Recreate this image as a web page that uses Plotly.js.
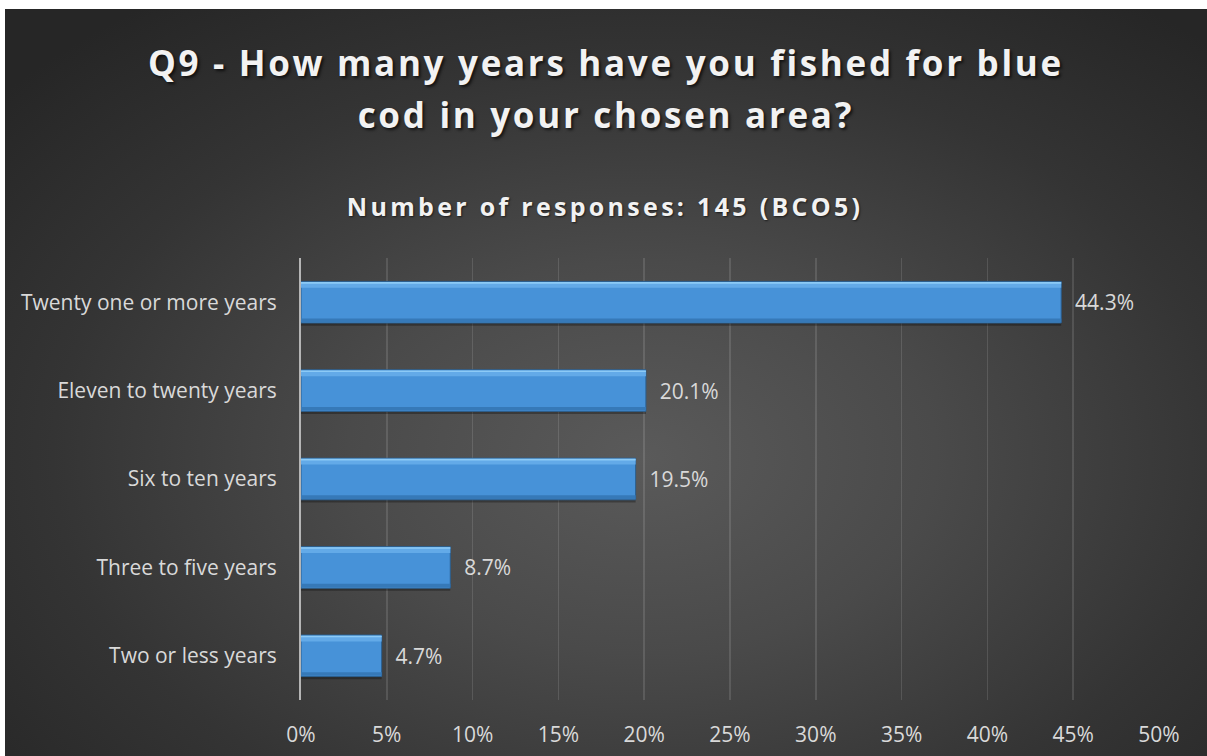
<!DOCTYPE html>
<html>
<head>
<meta charset="utf-8">
<script src="https://cdn.plot.ly/plotly-3.0.1.min.js"></script>
<style>
  html, body { margin: 0; padding: 0; background: #ffffff; width: 1207px; height: 756px; overflow: hidden; }
  #bg {
    position: absolute; left: 5px; top: 9px; width: 1202px; height: 747px;
    background: radial-gradient(ellipse 70% 75% at 53% 60%, #5a5a5a 0%, #4a4a4a 35%, #343434 70%, #262626 100%);
  }
  #chart { position: absolute; left: 0; top: 0; width: 1207px; height: 756px; }
  .gtitle { letter-spacing: 2.7px; }
  .annotation-text.subt { letter-spacing: 3.3px; }
</style>
</head>
<body>
<div id="bg"></div>
<div id="chart"></div>
<script>
const categories = ["Twenty one or more years", "Eleven to twenty years", "Six to ten years", "Three to five years", "Two or less years"];
const percentages = [44.3, 20.1, 19.5, 8.7, 4.7];
const valueLabels = ["44.3%", "20.1%", "19.5%", "8.7%", "4.7%"];
const tickValues = [0, 5, 10, 15, 20, 25, 30, 35, 40, 45, 50];
const tickLabels = ["0%", "5%", "10%", "15%", "20%", "25%", "30%", "35%", "40%", "45%", "50%"];
const titleText = "Q9 - How many years have you fished for blue<br>cod in your chosen area?";
const subtitleText = "Number of responses: 145 (BCO5)";

const labelFont = { family: "Open Sans", size: 21, color: "#d9d9d9" };

const traces = [
  { // drop shadow under bar
    type: "bar", orientation: "h", y: categories, x: percentages,
    width: 0.03, offset: 0.235,
    marker: { color: "rgba(0,0,0,0.3)", line: { width: 0 } },
    hoverinfo: "skip", showlegend: false
  },
  { // main bar
    type: "bar", orientation: "h", y: categories, x: percentages,
    width: 0.47,
    marker: { color: "#4792d8", line: { color: "#2b5f8f", width: 1 } },
    text: valueLabels, texttemplate: "\u00a0\u00a0%{text}", textposition: "outside", textfont: labelFont,
    cliponaxis: false, hoverinfo: "skip", showlegend: false
  },
  { // top bevel highlight
    type: "bar", orientation: "h", y: categories, x: percentages,
    width: 0.065, offset: -0.228,
    marker: { color: "#63aae8", line: { width: 0 } },
    hoverinfo: "skip", showlegend: false
  },
  { // top bright edge
    type: "bar", orientation: "h", y: categories, x: percentages,
    width: 0.018, offset: -0.228,
    marker: { color: "#8ccaf6", line: { width: 0 } },
    hoverinfo: "skip", showlegend: false
  },
  { // bottom bevel shade
    type: "bar", orientation: "h", y: categories, x: percentages,
    width: 0.04, offset: 0.185,
    marker: { color: "#3679b8", line: { width: 0 } },
    hoverinfo: "skip", showlegend: false
  }
];

const layout = {
  width: 1207, height: 756,
  paper_bgcolor: "rgba(0,0,0,0)", plot_bgcolor: "rgba(0,0,0,0)",
  margin: { l: 301, r: 48, t: 258, b: 56 },
  barmode: "overlay",
  showlegend: false,
  title: {
    text: "<span style='font-size:35px'>" + titleText.split("<br>").join("</span><br><span style='font-size:35px'>") + "</span>",
    font: { family: "Open Sans", size: 40, color: "#f2f2f2", weight: 700, shadow: "2px 2px 3px rgba(0,0,0,0.65)" },
    x: 0.502, xref: "container", xanchor: "center",
    y: 0.9, yref: "container", yanchor: "top"
  },
  annotations: [{
    text: subtitleText, xref: "paper", yref: "paper",
    x: 0.354, y: 1.118, xanchor: "center", yanchor: "middle", showarrow: false,
    font: { family: "Open Sans", size: 25, color: "#f2f2f2", weight: 700, shadow: "1px 1px 2px rgba(0,0,0,0.6)" }
  }],
  xaxis: {
    range: [0, 50], tickvals: tickValues, ticktext: tickLabels,
    showgrid: true, gridcolor: "rgba(255,255,255,0.12)", gridwidth: 1.5,
    zeroline: false, showline: false, ticks: "",
    tickfont: labelFont, ticklabelstandoff: 20, fixedrange: true
  },
  yaxis: {
    autorange: "reversed", type: "category",
    showgrid: false, zeroline: false,
    showline: true, linecolor: "#b5b5b5", linewidth: 2,
    ticks: "", tickfont: labelFont, ticklabelstandoff: 18, fixedrange: true
  }
};

Plotly.newPlot("chart", traces, layout, { displayModeBar: false, staticPlot: true }).then(function () {
  document.querySelectorAll(".annotation-text").forEach(function (el) { el.classList.add("subt"); });
});
</script>
</body>
</html>
